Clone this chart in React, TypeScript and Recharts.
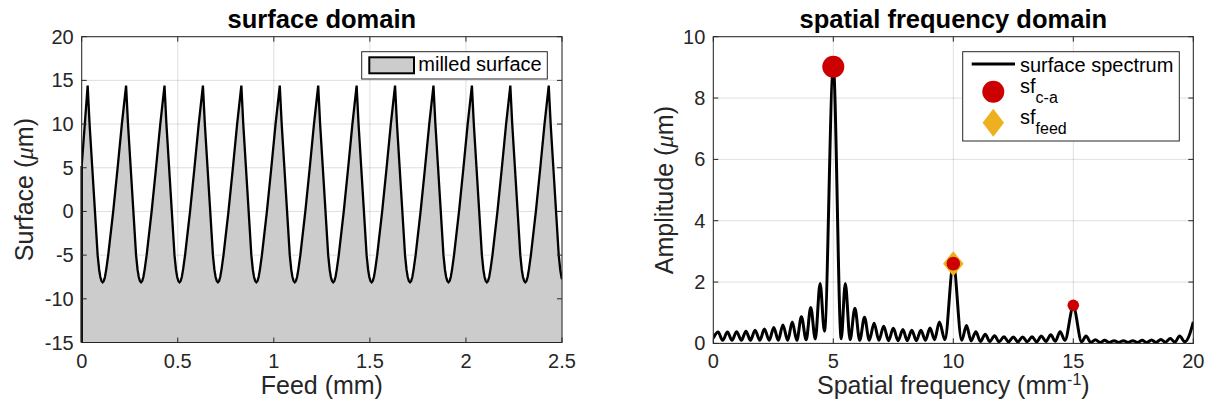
import React from 'react';
import {
  ComposedChart,
  Area,
  Line,
  Scatter,
  XAxis,
  YAxis,
  CartesianGrid,
  ReferenceLine,
} from 'recharts';

// ---- surface domain ----
const feedTicks = [0, 0.5, 1, 1.5, 2, 2.5];
const surfaceTicks = [-15, -10, -5, 0, 5, 10, 15, 20];

// feed position (mm), one row per cutter pass
const feedMm = [
  0,
  0.031, 0.041, 0.055, 0.069, 0.083, 0.091, 0.097, 0.103, 0.109, 0.115, 0.121, 0.128, 0.138, 0.164, 0.187, 0.209,
  0.231, 0.241, 0.255, 0.269, 0.283, 0.291, 0.297, 0.303, 0.309, 0.315, 0.321, 0.328, 0.338, 0.364, 0.387, 0.409,
  0.431, 0.441, 0.455, 0.469, 0.483, 0.491, 0.497, 0.503, 0.509, 0.515, 0.521, 0.528, 0.538, 0.564, 0.587, 0.609,
  0.631, 0.641, 0.655, 0.669, 0.683, 0.691, 0.697, 0.703, 0.709, 0.715, 0.721, 0.728, 0.738, 0.764, 0.787, 0.809,
  0.831, 0.841, 0.855, 0.869, 0.883, 0.891, 0.897, 0.903, 0.909, 0.915, 0.921, 0.928, 0.938, 0.964, 0.987, 1.009,
  1.031, 1.041, 1.055, 1.069, 1.083, 1.091, 1.097, 1.103, 1.109, 1.115, 1.121, 1.128, 1.138, 1.164, 1.187, 1.209,
  1.231, 1.241, 1.255, 1.269, 1.283, 1.291, 1.297, 1.303, 1.309, 1.315, 1.321, 1.328, 1.338, 1.364, 1.387, 1.409,
  1.431, 1.441, 1.455, 1.469, 1.483, 1.491, 1.497, 1.503, 1.509, 1.515, 1.521, 1.528, 1.538, 1.564, 1.587, 1.609,
  1.631, 1.641, 1.655, 1.669, 1.683, 1.691, 1.697, 1.703, 1.709, 1.715, 1.721, 1.728, 1.738, 1.764, 1.787, 1.809,
  1.831, 1.841, 1.855, 1.869, 1.883, 1.891, 1.897, 1.903, 1.909, 1.915, 1.921, 1.928, 1.938, 1.964, 1.987, 2.009,
  2.031, 2.041, 2.055, 2.069, 2.083, 2.091, 2.097, 2.103, 2.109, 2.115, 2.121, 2.128, 2.138, 2.164, 2.187, 2.209,
  2.231, 2.241, 2.255, 2.269, 2.283, 2.291, 2.297, 2.303, 2.309, 2.315, 2.321, 2.328, 2.338, 2.364, 2.387, 2.409,
  2.431, 2.441, 2.455, 2.469, 2.483, 2.491, 2.497, 2.5,
];

// surface height (um)
const surfaceUm = [
  5.2,
  14.4, 10, 5, 0, -5, -6.7, -7.5, -7.95, -8.1, -7.95, -7.5, -6.6, -5, 0, 5, 10,
  14.4, 10, 5, 0, -5, -6.7, -7.5, -7.95, -8.1, -7.95, -7.5, -6.6, -5, 0, 5, 10,
  14.4, 10, 5, 0, -5, -6.7, -7.5, -7.95, -8.1, -7.95, -7.5, -6.6, -5, 0, 5, 10,
  14.4, 10, 5, 0, -5, -6.7, -7.5, -7.95, -8.1, -7.95, -7.5, -6.6, -5, 0, 5, 10,
  14.4, 10, 5, 0, -5, -6.7, -7.5, -7.95, -8.1, -7.95, -7.5, -6.6, -5, 0, 5, 10,
  14.4, 10, 5, 0, -5, -6.7, -7.5, -7.95, -8.1, -7.95, -7.5, -6.6, -5, 0, 5, 10,
  14.4, 10, 5, 0, -5, -6.7, -7.5, -7.95, -8.1, -7.95, -7.5, -6.6, -5, 0, 5, 10,
  14.4, 10, 5, 0, -5, -6.7, -7.5, -7.95, -8.1, -7.95, -7.5, -6.6, -5, 0, 5, 10,
  14.4, 10, 5, 0, -5, -6.7, -7.5, -7.95, -8.1, -7.95, -7.5, -6.6, -5, 0, 5, 10,
  14.4, 10, 5, 0, -5, -6.7, -7.5, -7.95, -8.1, -7.95, -7.5, -6.6, -5, 0, 5, 10,
  14.4, 10, 5, 0, -5, -6.7, -7.5, -7.95, -8.1, -7.95, -7.5, -6.6, -5, 0, 5, 10,
  14.4, 10, 5, 0, -5, -6.7, -7.5, -7.95, -8.1, -7.95, -7.5, -6.6, -5, 0, 5, 10,
  14.4, 10, 5, 0, -5, -6.7, -7.5, -7.75,
];

// ---- spatial frequency domain ----
const freqTicks = [0, 5, 10, 15, 20];
const ampTicks = [0, 2, 4, 6, 8, 10];

const specFreq = [
  0, 0.2, 0.39, 0.59, 0.78, 0.97, 1.17, 1.36, 1.55, 1.74, 1.94, 2.13, 2.33, 2.52,
  2.71, 2.9, 3.1, 3.29, 3.48, 3.67, 3.87, 4.06, 4.25, 4.45, 4.63, 5.0, 5.33, 5.5,
  5.7, 5.9, 6.1, 6.3, 6.5, 6.7, 6.9, 7.1, 7.3, 7.5, 7.7, 7.9, 8.08, 8.27, 8.46,
  8.65, 8.84, 9.03, 9.22, 9.42, 9.65, 10.0, 10.35, 10.55, 10.74, 10.94, 11.13,
  11.33, 11.52, 11.72, 11.91, 12.11, 12.3, 12.5, 12.69, 12.89, 13.08, 13.28,
  13.47, 13.67, 13.86, 14.06, 14.25, 14.45, 14.65, 15.0, 15.35, 15.53, 15.73,
  15.92, 16.12, 16.31, 16.5, 16.7, 16.89, 17.09, 17.28, 17.48, 17.67, 17.87,
  18.06, 18.26, 18.45, 18.65, 18.84, 19.04, 19.23, 19.43, 19.65, 19.85, 20,
];
const specAmp = [
  0.17, 0.37, 0.1, 0.37, 0.1, 0.38, 0.1, 0.4, 0.1, 0.43, 0.1, 0.47, 0.1, 0.52,
  0.1, 0.6, 0.1, 0.7, 0.1, 0.87, 0.12, 1.17, 0.14, 1.95, 0.4, 9.0, 0.15, 1.95,
  0.12, 1.15, 0.1, 0.85, 0.1, 0.66, 0.1, 0.56, 0.09, 0.49, 0.09, 0.45, 0.09, 0.43,
  0.09, 0.43, 0.1, 0.5, 0.12, 0.7, 0.12, 2.6, 0.1, 0.58, 0.08, 0.38, 0.06,
  0.3, 0.06, 0.25, 0.05, 0.22, 0.05, 0.21, 0.05, 0.21, 0.05, 0.22,
  0.05, 0.24, 0.06, 0.28, 0.07, 0.38, 0.1, 1.2, 0.05, 0.24, 0.03,
  0.12, 0.03, 0.1, 0.03, 0.09, 0.03, 0.09, 0.03, 0.09, 0.03, 0.1,
  0.03, 0.11, 0.03, 0.13, 0.04, 0.16, 0.04, 0.24, 0.05, 0.3, 0.7,
];

// marked peaks
const caFreq = [5, 10, 15];
const caAmp = [9.02, 2.6, 1.24];
const feedPeakFreq = [10];
const feedPeakAmp = [2.6];

const FONT = "'Liberation Sans', Arial, Helvetica, sans-serif";
const AX = '#262626';
const RED = '#CC0000';
const GOLD = '#EDB120';

const L = { left: 81.7, top: 36.7, w: 480.3, h: 305.8 };
const R = { left: 713.3, top: 36.7, w: 480, h: 306.7 };

const surfaceData = feedMm.map((x, i) => ({ x, y: surfaceUm[i] }));
const specData = specFreq.map((f, i) => ({ f, a: specAmp[i] }));
const caData = caFreq.map((f, i) => ({ f, a: caAmp[i] }));
const feedData = feedPeakFreq.map((f, i) => ({ f, a: feedPeakAmp[i] }));
const caRadius = [11, 6.8, 5.8];

const xTick = (plotH: number) => (p: any) => {
  const { x, y, payload } = p;
  return (
    <g>
      <line x1={x} y1={y} x2={x} y2={y - 5} stroke={AX} />
      <line x1={x} y1={y - plotH} x2={x} y2={y - plotH + 5} stroke={AX} />
      <text x={x} y={y + 25} textAnchor="middle" fontSize={20} fontFamily={FONT} fill={AX}>
        {payload.value}
      </text>
    </g>
  );
};

const yTick = (plotW: number) => (p: any) => {
  const { x, y, payload } = p;
  return (
    <g>
      <line x1={x} y1={y} x2={x + 5} y2={y} stroke={AX} />
      <line x1={x + plotW} y1={y} x2={x + plotW - 5} y2={y} stroke={AX} />
      <text x={x - 8} y={y + 7} textAnchor="end" fontSize={20} fontFamily={FONT} fill={AX}>
        {payload.value}
      </text>
    </g>
  );
};

const SurfaceChart = () => (
  <ComposedChart
    width={600}
    height={410}
    data={surfaceData}
    margin={{ top: L.top, right: 600 - L.left - L.w, bottom: 410 - L.top - L.h - 30, left: L.left - 50 }}
  >
    <Area
      dataKey="y"
      type="linear"
      baseValue={-15}
      fill="#CCCCCC"
      fillOpacity={1}
      stroke="#000"
      strokeWidth={2.3}
      isAnimationActive={false}
    />
    <ReferenceLine
      segment={[
        { x: feedMm[0], y: -15 },
        { x: feedMm[0], y: surfaceUm[0] },
      ]}
      stroke="#000"
      strokeWidth={2.5}
    />
    <CartesianGrid stroke={AX} strokeOpacity={0.15} />
    <XAxis
      dataKey="x"
      type="number"
      domain={[0, 2.5]}
      ticks={feedTicks}
      interval={0}
      allowDataOverflow
      axisLine={false}
      tickLine={false}
      tickSize={0}
      tickMargin={0}
      height={30}
      tick={xTick(L.h)}
    />
    <YAxis
      type="number"
      domain={[-15, 20]}
      ticks={surfaceTicks}
      interval={0}
      allowDataOverflow
      axisLine={false}
      tickLine={false}
      tickSize={0}
      tickMargin={0}
      width={50}
      tick={yTick(L.w)}
    />
  </ComposedChart>
);

const diamond = (cx: number, cy: number, hw: number, hh: number) =>
  `${cx},${cy - hh} ${cx + hw},${cy} ${cx},${cy + hh} ${cx - hw},${cy}`;

const SpectrumChart = () => (
  <ComposedChart
    width={606}
    height={410}
    margin={{ top: R.top, right: 606 - (R.left - 606) - R.w, bottom: 410 - R.top - R.h - 30, left: R.left - 606 - 50 }}
  >
    <CartesianGrid stroke={AX} strokeOpacity={0.15} />
    <XAxis
      dataKey="f"
      type="number"
      domain={[0, 20]}
      ticks={freqTicks}
      interval={0}
      allowDataOverflow
      axisLine={false}
      tickLine={false}
      tickSize={0}
      tickMargin={0}
      height={30}
      tick={xTick(R.h)}
    />
    <YAxis
      dataKey="a"
      type="number"
      domain={[0, 10]}
      ticks={ampTicks}
      interval={0}
      allowDataOverflow
      axisLine={false}
      tickLine={false}
      tickSize={0}
      tickMargin={0}
      width={50}
      tick={yTick(R.w)}
    />
    <Line
      data={specData}
      dataKey="a"
      type="monotone"
      stroke="#000"
      strokeWidth={3}
      dot={false}
      activeDot={false}
      isAnimationActive={false}
    />
    <Scatter
      data={feedData}
      dataKey="a"
      isAnimationActive={false}
      shape={(p: any) => <polygon points={diamond(p.cx, p.cy, 10.3, 12.5)} fill={GOLD} />}
    />
    <Scatter
      data={caData}
      dataKey="a"
      isAnimationActive={false}
      shape={(p: any) => {
        const i = caFreq.indexOf(p.payload.f);
        return <circle cx={p.cx} cy={p.cy} r={caRadius[i] ?? 6} fill={RED} />;
      }}
    />
  </ComposedChart>
);

const Overlay = () => (
  <svg
    width={1212}
    height={410}
    style={{ position: 'absolute', left: 0, top: 0, pointerEvents: 'none' }}
    fontFamily={FONT}
  >
    <rect x={L.left} y={L.top} width={L.w} height={L.h} fill="none" stroke={AX} />
    <rect x={R.left} y={R.top} width={R.w} height={R.h} fill="none" stroke={AX} />

    <text x={L.left + L.w / 2} y={28} textAnchor="middle" fontSize={25.5} fontWeight="bold" fill="#000">
      surface domain
    </text>
    <text x={R.left + R.w / 2} y={28} textAnchor="middle" fontSize={25.5} fontWeight="bold" fill="#000">
      spatial frequency domain
    </text>

    <text x={L.left + L.w / 2} y={394} textAnchor="middle" fontSize={25} fill={AX}>
      Feed (mm)
    </text>
    <text x={R.left + R.w / 2} y={394} textAnchor="middle" fontSize={25} fill={AX}>
      Spatial frequency (mm
      <tspan dy={-9} fontSize={16}>-1</tspan>
      <tspan dy={9}>)</tspan>
    </text>

    <text
      transform={`translate(33, ${L.top + L.h / 2}) rotate(-90)`}
      textAnchor="middle"
      fontSize={25}
      fill={AX}
    >
      Surface (<tspan fontStyle="italic" fontFamily="'Liberation Serif', serif">μ</tspan>m)
    </text>
    <text
      transform={`translate(673, ${R.top + R.h / 2}) rotate(-90)`}
      textAnchor="middle"
      fontSize={25}
      fill={AX}
    >
      Amplitude (<tspan fontStyle="italic" fontFamily="'Liberation Serif', serif">μ</tspan>m)
    </text>

    {/* legend, surface */}
    <rect x={361.7} y={51.7} width={185.6} height={27.3} fill="#fff" stroke={AX} />
    <rect x={369.3} y={57.3} width={44.7} height={16} fill="#CCCCCC" stroke="#000" strokeWidth={2} />
    <text x={418.3} y={71} fontSize={20} fill="#000">
      milled surface
    </text>

    {/* legend, spectrum */}
    <rect x={962.7} y={51.7} width={216.6} height={89.3} fill="#fff" stroke={AX} />
    <line x1={971.7} y1={64} x2={1015} y2={64} stroke="#000" strokeWidth={3} />
    <text x={1020} y={71.5} fontSize={20} fill="#000">
      surface spectrum
    </text>
    <circle cx={993.3} cy={91.7} r={11} fill={RED} />
    <text x={1020} y={93.3} fontSize={20} fill="#000">
      sf<tspan dy={10} fontSize={16}>c-a</tspan>
    </text>
    <polygon points={diamond(993.3, 122.7, 10.7, 14)} fill={GOLD} />
    <text x={1020} y={124} fontSize={20} fill="#000">
      sf<tspan dy={10} fontSize={16}>feed</tspan>
    </text>
  </svg>
);

export default function App() {
  return (
    <div style={{ position: 'absolute', left: 0, top: 0, width: 1212, height: 410, background: '#fff' }}>
      <div style={{ position: 'absolute', left: 0, top: 0 }}>
        <SurfaceChart />
      </div>
      <div style={{ position: 'absolute', left: 606, top: 0 }}>
        <SpectrumChart />
      </div>
      <Overlay />
    </div>
  );
}
